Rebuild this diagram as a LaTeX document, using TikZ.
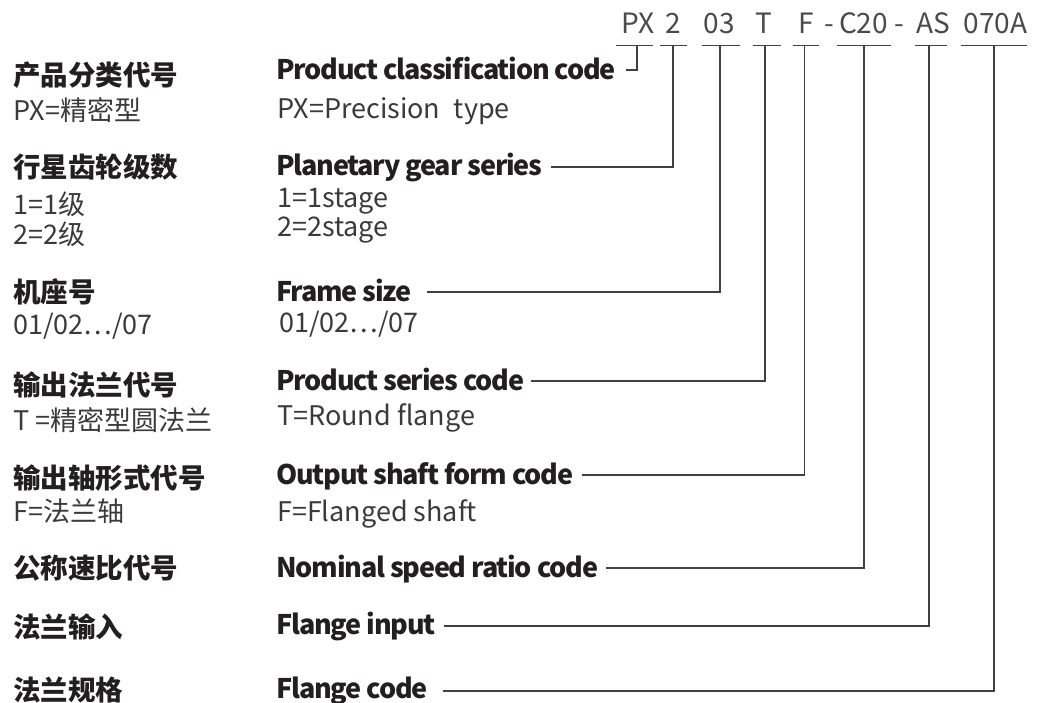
\documentclass[tikz,border=0pt]{standalone}
\usepackage{fontspec}
\setmainfont{Noto Sans CJK SC}
\newfontfamily\tightfont{Noto Sans CJK SC}[LetterSpace=-4.5]
\definecolor{txtbold}{HTML}{231F20}
\definecolor{txtreg}{HTML}{3A3A3A}
\definecolor{txtcode}{HTML}{4A4A4A}
\definecolor{linec}{HTML}{404040}
\begin{document}
\begin{tikzpicture}[x=1pt,y=1pt,
  title/.style={anchor=base west, inner sep=0pt, font=\fontsize{27.5}{27.5}\selectfont\bfseries, text=txtbold},
  etitle/.style={anchor=base west, inner sep=0pt, font=\fontsize{27}{27}\tightfont\bfseries, text=txtbold},
  body/.style={anchor=base west, inner sep=0pt, font=\fontsize{27}{27}\selectfont, text=txtreg},
  code/.style={anchor=base, inner sep=0pt, font=\fontsize{28}{28}\selectfont, text=txtcode},
  link/.style={draw=linec, line width=1.1pt},
]
\useasboundingbox (0,0) rectangle (1046,-703);

% code string
\node[code] (cPX)  at (638,-34) {PX};
\node[code] (c2)   at (673,-34) {2};
\node[code] (c03)  at (719,-34) {03};
\node[code] (cT)   at (763.5,-34) {T};
\node[code] (cF)   at (806,-34) {F};
\node[code] (d1)   at (829.5,-34) {-};
\node[code] (cC20) at (863.5,-34) {C20};
\node[code] (d2)   at (899.5,-34) {-};
\node[code] (cAS)  at (933,-34) {AS};
\node[code] (c070A) at (995.5,-34) {070A};

% underlines
\foreach \a/\b in {616/652.5, 659.5/686.5, 701.5/739.5, 752.5/780.5, 792.5/819, 837/890.5, 914.5/947, 961/1026.5}
  \draw[link] (\a,-45.7) -- (\b,-45.7);

% tap points
\coordinate (uPX) at (637,-45.7);
\coordinate (u2) at (673,-45.7);
\coordinate (u03) at (720,-45.7);
\coordinate (uT) at (765,-45.7);
\coordinate (uF) at (804.5,-45.7);
\coordinate (uC20) at (864,-45.7);
\coordinate (uAS) at (929,-45.7);
\coordinate (u070A) at (994,-45.7);

% left column
\node[title] (l1) at (13,-86) {产品分类代号};
\node[body]  (l1a) at (13,-121) {PX=精密型};
\node[title] (l2) at (13,-178) {行星齿轮级数};
\node[body]  (l2a) at (13,-215) {1=1级};
\node[body]  (l2b) at (13,-245) {2=2级};
\node[title] (l3) at (13,-302) {机座号};
\node[body]  (l3a) at (13,-334) {01/02…/07};
\node[title] (l4) at (13,-395) {输出法兰代号};
\node[body]  (l4a) at (13,-430) {T =精密型圆法兰};
\node[title] (l5) at (13,-488) {输出轴形式代号};
\node[body]  (l5a) at (13,-521) {F=法兰轴};
\node[title] (l6) at (13,-578) {公称速比代号};
\node[title] (l7) at (13,-637) {法兰输入};
\node[title] (l8) at (13,-700) {法兰规格};

% right column
\node[etitle] (r1) at (276,-80) {Product classification code};
\node[body]  (r1a) at (277,-119) {PX=Precision\hspace{0.5em}type};
\node[etitle] (r2) at (276,-176) {Planetary gear series};
\node[body]  (r2a) at (277,-208) {1=1stage};
\node[body]  (r2b) at (277,-237) {2=2stage};
\node[etitle] (r3) at (276,-301) {Frame size};
\node[body]  (r3a) at (279,-332) {01/02…/07};
\node[etitle] (r4) at (276,-390) {Product series code};
\node[body]  (r4a) at (277,-425) {T=Round flange};
\node[etitle] (r5) at (276,-484) {Output shaft form code};
\node[body]  (r5a) at (277,-521) {F=Flanged shaft};
\node[etitle] (r6) at (276,-577) {Nominal speed ratio code};
\node[etitle] (r7) at (276,-634) {Flange input};
\node[etitle] (r8) at (276,-698) {Flange code};

% connectors
\draw[link] (uPX) |- ([shift={(10,10)}]r1.base east);
\draw[link] (u2) |- ([shift={(8,9)}]r2.base east);
\draw[link] (u03) |- ([shift={(15,9)}]r3.base east);
\draw[link] (uT) |- ([shift={(7,9)}]r4.base east);
\draw[link] (uF) |- ([shift={(9,9)}]r5.base east);
\draw[link] (uC20) |- ([shift={(8,9)}]r6.base east);
\draw[link] (uAS) |- ([shift={(8,8)}]r7.base east);
\draw[link] (u070A) |- ([shift={(15,7)}]r8.base east);
\end{tikzpicture}
\end{document}
